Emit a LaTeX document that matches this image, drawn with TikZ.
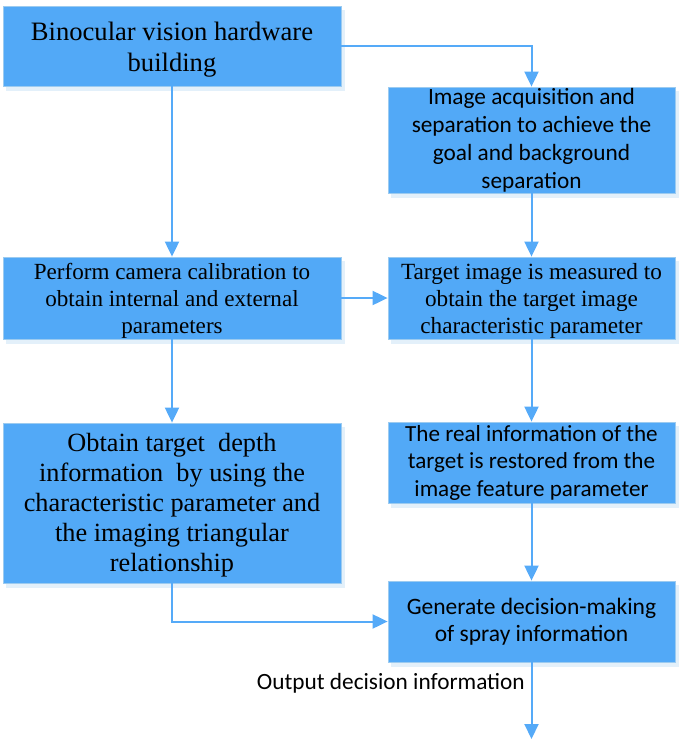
\documentclass[tikz,border=0pt]{standalone}
\usepackage{fontspec}
\usetikzlibrary{arrows.meta}
\newfontfamily\serifbox{Liberation Serif}
\newfontfamily\sansbox{Carlito}
\definecolor{boxblue}{HTML}{52A9F7}
\definecolor{boxedge}{HTML}{9CCBF0}
\definecolor{arrowblue}{HTML}{55AAF8}
\definecolor{shadowblue}{HTML}{E3F0FA}
\tikzset{
  box/.style={rectangle, fill=boxblue, draw=boxedge, line width=0.8pt, align=center, inner sep=0pt,
    minimum width=338pt, text=black},
  rbox/.style={box, minimum width=287pt},
  txt/.style={align=center, inner sep=0pt, text=black},
  conn/.style={draw=arrowblue, line width=2pt, -{Triangle[length=15pt,width=14pt]}},
}
\begin{document}
\begin{tikzpicture}[x=1pt,y=-1pt]
\useasboundingbox (0,0) rectangle (685,739);
% shadows
\foreach \l/\t/\r/\b in {3/6/341/86, 388/87/675/193, 3/257/341/339, 388/257/675/339, 3/423/341/583, 388/422/675/503, 388/581/675/662}{
  \fill[shadowblue] (\l+3,\t+4) rectangle (\r+4,\b+5);
}
\node[box, minimum height=80pt] (A) at (172,46) {};
\node[txt, font=\serifbox\fontsize{26.6}{31}\selectfont] (At) at ([yshift=-3.5pt]A.center)
  {Binocular vision hardware\\building};
\node[rbox, minimum height=106pt, font=\sansbox\fontsize{23.3}{28}\selectfont] (B) at (531.5,140)
  {Image acquisition and\\separation to achieve the\\goal and background\\separation};
\node[box, minimum height=82pt] (C) at (172,298) {};
\node[txt, font=\serifbox\fontsize{23.1}{27}\selectfont] (Ct) at ([yshift=-3pt]C.center)
  {Perform camera calibration to\\obtain internal and external\\parameters};
\node[rbox, minimum height=82pt] (D) at (531.5,298) {};
\node[txt, font=\serifbox\fontsize{23.2}{27}\selectfont] (Dt) at ([yshift=-3pt]D.center)
  {Target image is measured to\\obtain the target image\\characteristic parameter};
\node[box, minimum height=160pt] (E) at (172,503) {};
\node[txt, font=\serifbox\fontsize{26.3}{30}\selectfont] (Et) at ([yshift=-2pt]E.center)
  {Obtain target\ \ depth\\information\ \ by using the\\characteristic parameter and\\the imaging triangular\\relationship};
\node[rbox, minimum height=81pt, font=\sansbox\fontsize{23.1}{27.5}\selectfont] (F) at (531.5,462.5)
  {The real information of the\\target is restored from the\\image feature parameter};
\node[rbox, minimum height=81pt, font=\sansbox\fontsize{23.5}{27}\selectfont] (G) at (531.5,621.5)
  {Generate decision-making\\of spray information};
\node[anchor=east, inner sep=0pt, font=\sansbox\fontsize{23.3}{25}\selectfont] (L) at (525,683)
  {Output decision information};
\coordinate (out) at (531.5,739);
\draw[conn] (A.east) -| (B.north);
\draw[conn] (A.south) -- (C.north);
\draw[conn] (B.south) -- (D.north);
\draw[conn] (C.east) -- (D.west);
\draw[conn] (C.south) -- (E.north);
\draw[conn] (D.south) -- (F.north);
\draw[conn] (F.south) -- (G.north);
\draw[conn] (E.south) |- (G.west);
\draw[conn] (G.south) -- (out);
\end{tikzpicture}
\end{document}
